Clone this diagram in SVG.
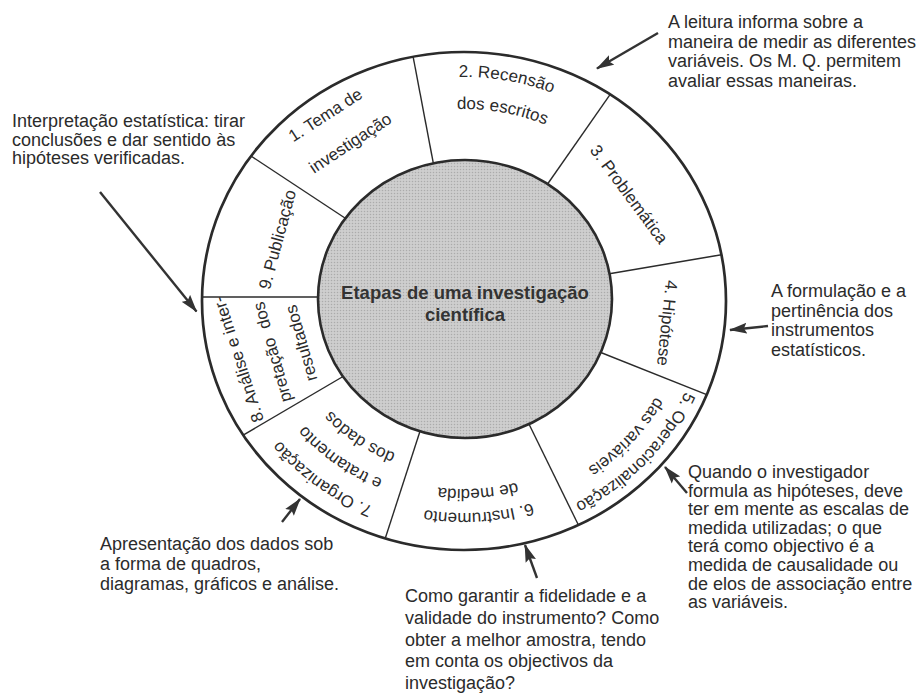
<svg xmlns="http://www.w3.org/2000/svg" width="920" height="695" viewBox="0 0 920 695">
<style>
.t{font-family:"Liberation Sans",Arial,Helvetica,sans-serif;font-size:18px;fill:#2b2b2b}
.r{font-family:"Liberation Sans",Arial,Helvetica,sans-serif;font-size:17px;fill:#2b2b2b;text-anchor:middle}
.c{font-family:"Liberation Sans",Arial,Helvetica,sans-serif;font-size:18.5px;font-weight:bold;fill:#333;text-anchor:middle}
.dv{stroke:#2b2b2b;stroke-width:1.4;fill:none}
.arr{stroke:#333;stroke-width:2.4;fill:none;marker-end:url(#ah)}
</style>
<defs>
<pattern id="dots" patternUnits="userSpaceOnUse" width="3" height="3">
<rect width="3" height="3" fill="#cecece"/>
<circle cx="1.5" cy="1.5" r="0.75" fill="#ababab"/>
</pattern>
<marker id="ah" markerUnits="userSpaceOnUse" markerWidth="18" markerHeight="12" refX="17" refY="6" orient="auto" viewBox="0 0 18 12"><path d="M0,0.5 L18,6 L0,11.5 L3,6 z" fill="#333"/></marker>
<path id="p2a" d="M347.3,106 A237,224 0 0 1 646.9,158.5"/>
<path id="p2b" d="M364.6,133.1 A205,192 0 0 1 623.3,180.2"/>
<path id="p5a" d="M704.8,310.9 A241,228 0 0 1 495.5,527"/>
<path id="p5b" d="M681,304.6 A216,203 0 0 1 497.9,501.5"/>
<path id="p6a" d="M619.7,454 A225,212 0 0 1 331.1,472.1"/>
<path id="p6b" d="M603.6,436.2 A201,188 0 0 1 345.9,453.1"/>
<path id="p7a" d="M474.3,523.8 A236,223 0 0 1 233.6,349"/>
<path id="p7b" d="M473.8,494.8 A207,194 0 0 1 262.1,343.7"/>
<path id="p7c" d="M475.6,465.7 A178,165 0 0 1 291.1,340.3"/>
</defs>
<rect width="920" height="695" fill="#fff"/>
<g id="ring">
<ellipse cx="464" cy="301" rx="262" ry="249" fill="#fff" stroke="#2b2b2b" stroke-width="2.7"/>
<line class="dv" x1="413.1" y1="56.7" x2="435" y2="172"/>
<line class="dv" x1="610.2" y1="94.3" x2="542" y2="192"/>
<line class="dv" x1="721.4" y1="254.8" x2="602" y2="275"/>
<line class="dv" x1="706.7" y1="394.7" x2="592" y2="349"/>
<line class="dv" x1="578.4" y1="525" x2="526" y2="418"/>
<line class="dv" x1="385.2" y1="538.5" x2="423" y2="422"/>
<line class="dv" x1="243.2" y1="435.1" x2="349" y2="373"/>
<line class="dv" x1="202" y1="297" x2="328" y2="297"/>
<line class="dv" x1="251" y1="156" x2="351" y2="222"/>
</g>
<g id="center">
<ellipse cx="465" cy="299" rx="147" ry="139" fill="url(#dots)" stroke="#2b2b2b" stroke-width="2.6"/>
<text class="c" x="465" y="299">Etapas de uma investigação</text>
<text class="c" x="465" y="321">científica</text>
</g>
<g id="seg1">
<text class="r" transform="translate(328.5,119.8) rotate(-33)">1. Tema de</text>
<text class="r" transform="translate(353.5,147.8) rotate(-33.5)">investigação</text>
</g>
<g id="seg2">
<text class="r"><textPath href="#p2a" startOffset="50%">2. Recensão</textPath></text>
<text class="r"><textPath href="#p2b" startOffset="50%">dos escritos</textPath></text>
</g>
<g id="seg3">
<text class="r" transform="translate(624.4,197.7) rotate(53.5)">3. Problemática</text>
</g>
<g id="seg4">
<text class="r" transform="translate(661.5,322.5) rotate(96)">4. Hipótese</text>
</g>
<g id="seg5">
<text class="r"><textPath href="#p5a" startOffset="50%">5. Operacionalização</textPath></text>
<text class="r"><textPath href="#p5b" startOffset="50%">das variáveis</textPath></text>
</g>
<g id="seg6">
<text class="r"><textPath href="#p6a" startOffset="50%">6. Instrumento</textPath></text>
<text class="r"><textPath href="#p6b" startOffset="50%">de medida</textPath></text>
</g>
<g id="seg7">
<text class="r"><textPath href="#p7a" startOffset="50%">7. Organização</textPath></text>
<text class="r"><textPath href="#p7b" startOffset="50%">e tratamento</textPath></text>
<text class="r"><textPath href="#p7c" startOffset="50%">dos dados</textPath></text>
</g>
<g id="seg8">
<text class="r" transform="translate(243.8,357.6) rotate(-108)">8. Análise e inter-</text>
<text class="r" style="word-spacing:5px" transform="translate(277.8,350.6) rotate(-106)">pretação dos</text>
<text class="r" transform="translate(306.8,341.6) rotate(-106)">resultados</text>
</g>
<g id="seg9">
<text class="r" transform="translate(283,241) rotate(-75)">9. Publicação</text>
</g>
<g id="note-interpretacao">
<text class="t" x="12" y="127">Interpretação estatística: tirar</text>
<text class="t" x="12" y="145.5">conclusões e dar sentido às</text>
<text class="t" x="12" y="164">hipóteses verificadas.</text>
</g>
<g id="note-leitura">
<text class="t" x="668" y="28">A leitura informa sobre a</text>
<text class="t" x="668" y="47.5">maneira de medir as diferentes</text>
<text class="t" x="668" y="67">variáveis. Os M. Q. permitem</text>
<text class="t" x="668" y="86.5">avaliar essas maneiras.</text>
</g>
<g id="note-formulacao">
<text class="t" x="771" y="297">A formulação e a</text>
<text class="t" x="771" y="316.5">pertinência dos</text>
<text class="t" x="771" y="336">instrumentos</text>
<text class="t" x="771" y="355.5">estatísticos.</text>
</g>
<g id="note-quando">
<text class="t" x="688" y="478">Quando o investigador</text>
<text class="t" x="688" y="496.6">formula as hipóteses, deve</text>
<text class="t" x="688" y="515.2">ter em mente as escalas de</text>
<text class="t" x="688" y="533.8">medida utilizadas; o que</text>
<text class="t" x="688" y="552.4">terá como objectivo é a</text>
<text class="t" x="688" y="571">medida de causalidade ou</text>
<text class="t" x="688" y="589.6">de elos de associação entre</text>
<text class="t" x="688" y="608.2">as variáveis.</text>
</g>
<g id="note-apresentacao">
<text class="t" x="100" y="550">Apresentação dos dados sob</text>
<text class="t" x="100" y="570">a forma de quadros,</text>
<text class="t" x="100" y="590">diagramas, gráficos e análise.</text>
</g>
<g id="note-como">
<text class="t" x="405" y="602">Como garantir a fidelidade e a</text>
<text class="t" x="405" y="623.8">validade do instrumento? Como</text>
<text class="t" x="405" y="645.6">obter a melhor amostra, tendo</text>
<text class="t" x="405" y="667.4">em conta os objectivos da</text>
<text class="t" x="405" y="689.2">investigação?</text>
</g>
<g id="connectors">
<line class="arr" x1="100" y1="192" x2="196.5" y2="311.5"/>
<line class="arr" x1="658" y1="33" x2="597" y2="68.5"/>
<line class="arr" x1="768" y1="326" x2="730" y2="330"/>
<line class="arr" x1="687" y1="493" x2="665" y2="467"/>
<line class="arr" x1="537" y1="578" x2="525" y2="545"/>
<line class="arr" x1="282" y1="522" x2="300" y2="499"/>
</g>
</svg>
